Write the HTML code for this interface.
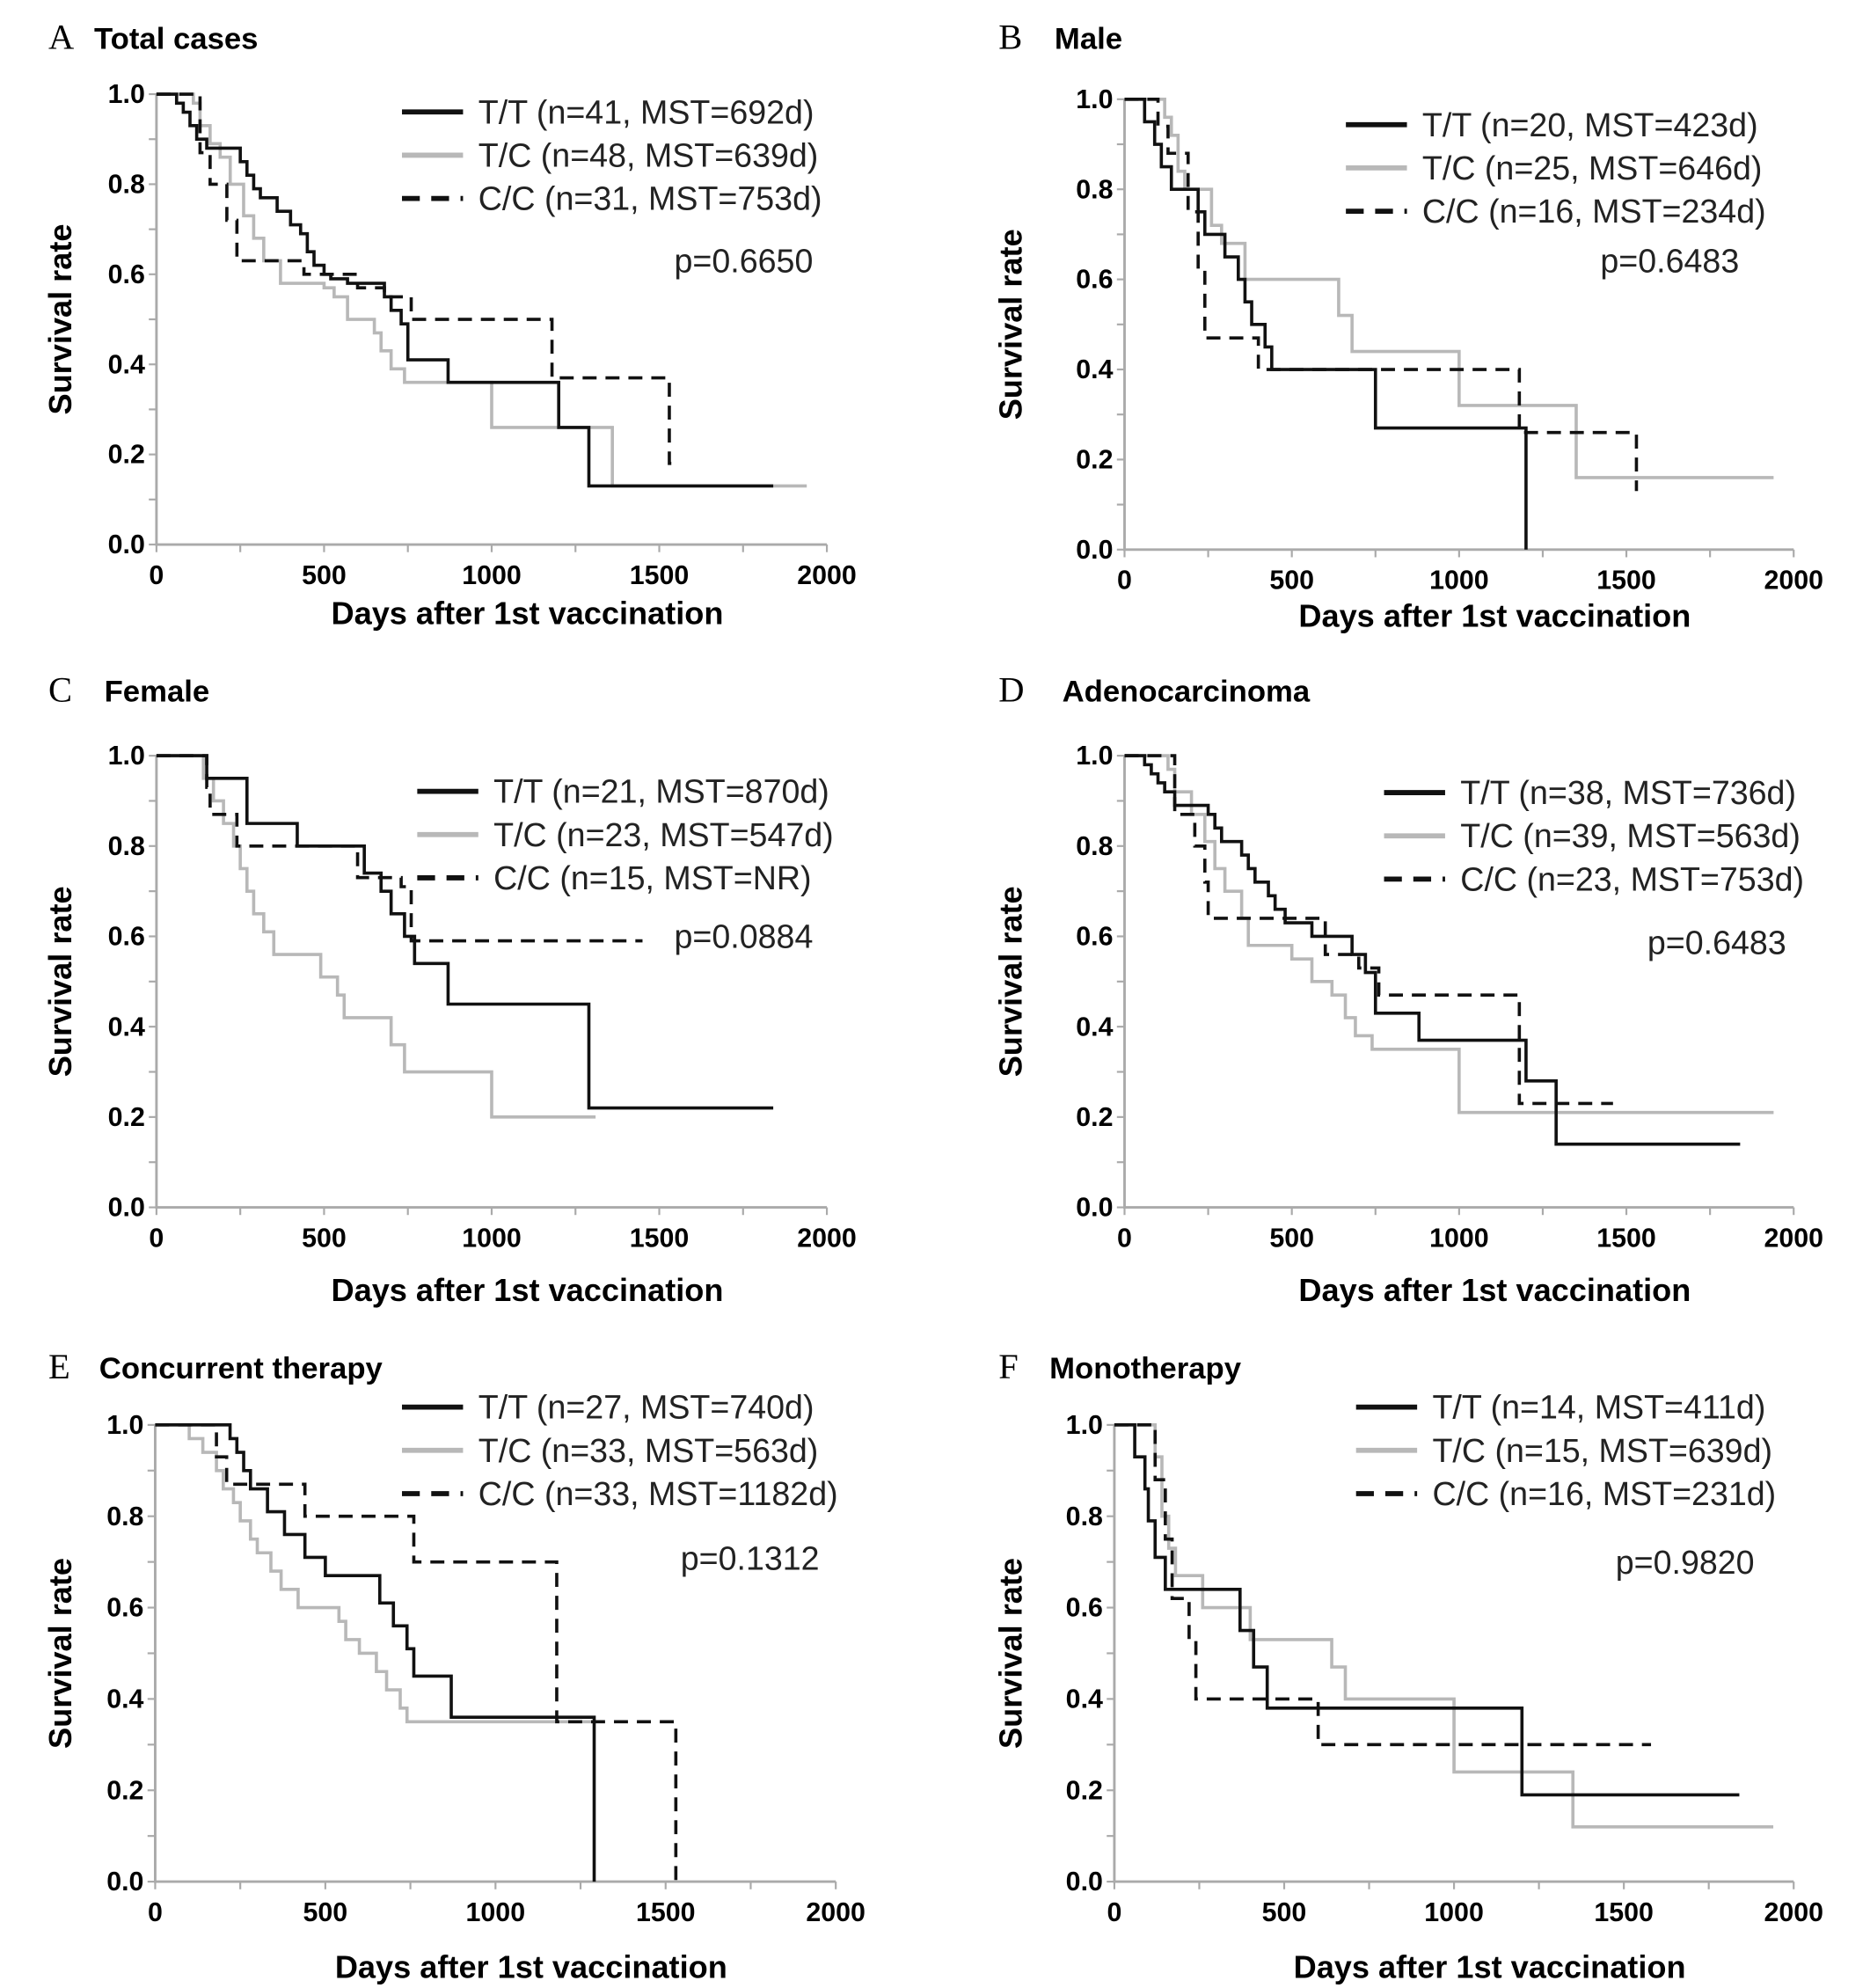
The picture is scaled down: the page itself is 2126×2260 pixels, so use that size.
<!DOCTYPE html>
<html><head><meta charset="utf-8"><style>
html,body{margin:0;padding:0;background:#fff;}
svg{display:block;}
</style></head><body>
<svg id="fig" width="2126" height="2260" viewBox="0 0 1470 1562.6" preserveAspectRatio="none" xmlns="http://www.w3.org/2000/svg" font-family="Liberation Sans, sans-serif"></svg>
<script>
// ---- data (days, survival after drop) ----
const panelLetters = ["A","B","C","D","E","F"];
const panelTitles = ["Total cases","Male","Female","Adenocarcinoma","Concurrent therapy","Monotherapy"];
const pValues = ["p=0.6650","p=0.6483","p=0.0884","p=0.6483","p=0.1312","p=0.9820"];
const legendTT = ["T/T (n=41, MST=692d)","T/T (n=20, MST=423d)","T/T (n=21, MST=870d)","T/T (n=38, MST=736d)","T/T (n=27, MST=740d)","T/T (n=14, MST=411d)"];
const legendTC = ["T/C (n=48, MST=639d)","T/C (n=25, MST=646d)","T/C (n=23, MST=547d)","T/C (n=39, MST=563d)","T/C (n=33, MST=563d)","T/C (n=15, MST=639d)"];
const legendCC = ["C/C (n=31, MST=753d)","C/C (n=16, MST=234d)","C/C (n=15, MST=NR)","C/C (n=23, MST=753d)","C/C (n=33, MST=1182d)","C/C (n=16, MST=231d)"];
const xTicks = [0,500,1000,1500,2000];
const yTicks = [0,0.2,0.4,0.6,0.8,1.0];

const ttA=[[60,.98],[80,.96],[100,.93],[120,.90],[150,.88],[250,.85],[270,.82],[290,.79],[310,.77],[360,.74],[400,.71],[430,.69],[450,.65],[470,.62],[500,.60],[520,.59],[570,.58],[680,.55],[700,.52],[730,.49],[750,.41],[870,.36],[1200,.26],[1290,.13],[1840,.13]];
const tcA=[[110,.98],[130,.93],[160,.89],[190,.86],[220,.80],[260,.73],[290,.68],[320,.63],[370,.58],[500,.57],[530,.55],[570,.50],[650,.47],[670,.43],[700,.39],[740,.36],[1000,.26],[1360,.13],[1940,.13]];
const ccA=[[130,.87],[160,.80],[210,.72],[240,.63],[440,.60],[600,.57],[680,.55],[760,.50],[1180,.37],[1530,.18],[1560,.18]];
const ttB=[[60,.95],[90,.90],[110,.85],[140,.80],[220,.75],[240,.70],[300,.65],[340,.60],[360,.55],[380,.50],[420,.45],[440,.40],[750,.27],[1200,0]];
const tcB=[[120,.96],[140,.92],[160,.84],[180,.80],[260,.72],[290,.68],[360,.60],[640,.52],[680,.44],[1000,.32],[1350,.16],[1940,.16]];
const ccB=[[100,.94],[130,.88],[190,.75],[220,.62],[240,.47],[400,.40],[1180,.26],[1530,.13]];
const ttC=[[150,.95],[270,.85],[420,.80],[620,.74],[670,.70],[700,.65],[740,.60],[770,.54],[870,.45],[1290,.22],[1840,.22]];
const tcC=[[140,.95],[170,.90],[200,.85],[230,.80],[250,.75],[270,.70],[290,.65],[320,.61],[350,.56],[490,.51],[540,.47],[560,.42],[700,.36],[740,.30],[1000,.20],[1310,.20]];
const ccC=[[150,.93],[160,.87],[240,.80],[600,.73],[730,.71],[760,.59],[1450,.59]];
const ttD=[[60,.98],[80,.96],[100,.94],[120,.92],[150,.89],[250,.87],[270,.84],[290,.81],[350,.78],[370,.75],[390,.72],[430,.69],[450,.66],[480,.63],[560,.60],[680,.56],[720,.52],[750,.43],[880,.37],[1200,.28],[1290,.14],[1840,.14]];
const tcD=[[130,.97],[150,.92],[200,.87],[240,.81],[270,.75],[300,.70],[350,.64],[370,.58],[500,.55],[560,.50],[620,.47],[660,.42],[690,.38],[740,.35],[1000,.21],[1940,.21]];
const ccD=[[150,.87],[210,.80],[240,.72],[250,.64],[600,.56],[700,.53],[760,.47],[1180,.23],[1460,.23]];
const ttE=[[220,.97],[240,.94],[260,.90],[280,.86],[330,.81],[380,.76],[440,.71],[500,.67],[660,.61],[700,.56],[740,.51],[760,.45],[870,.36],[1290,0]];
const tcE=[[100,.97],[140,.94],[180,.90],[200,.86],[230,.83],[250,.79],[280,.75],[300,.72],[340,.68],[370,.64],[420,.60],[540,.57],[560,.53],[600,.50],[650,.46],[680,.42],[720,.38],[740,.35],[1290,.35]];
const ccE=[[180,.93],[210,.87],[440,.80],[760,.70],[1180,.35],[1530,0]];
const ttF=[[60,.93],[90,.86],[100,.79],[120,.71],[150,.64],[370,.55],[410,.47],[450,.38],[1200,.19],[1840,.19]];
const tcF=[[120,.93],[140,.80],[160,.73],[180,.67],[260,.60],[400,.53],[640,.47],[680,.40],[1000,.24],[1350,.12],[1940,.12]];
const ccF=[[120,.88],[150,.75],[170,.62],[220,.53],[240,.40],[600,.30],[1580,.30]];

const seriesTT=[ttA,ttB,ttC,ttD,ttE,ttF];
const seriesTC=[tcA,tcB,tcC,tcD,tcE,tcF];
const seriesCC=[ccA,ccB,ccC,ccD,ccE,ccF];

// ---- layout ----
const L=[
 {x0:123,x1:650,y1:74,y0:428,lx:38,ty:32,tx:74,leg:[316,88],p:[530,205],xt:484},
 {x0:884,x1:1410,y1:78,y0:432,lx:785,ty:32,tx:829,leg:[1058,98],p:[1258,205],xt:486},
 {x0:123,x1:650,y1:594,y0:949,lx:38,ty:545,tx:82,leg:[328,622],p:[530,736],xt:1016},
 {x0:884,x1:1410,y1:594,y0:949,lx:785,ty:545,tx:835,leg:[1088,623],p:[1295,741],xt:1016},
 {x0:122,x1:657,y1:1120,y0:1479,lx:38,ty:1077,tx:78,leg:[316,1106],p:[535,1225],xt:1548},
 {x0:876,x1:1410,y1:1120,y0:1479,lx:785,ty:1077,tx:825,leg:[1066,1106],p:[1270,1228],xt:1548}
];
const NS="http://www.w3.org/2000/svg";
const svg=document.getElementById('fig');
function mk(tag,attrs,parent){const e=document.createElementNS(NS,tag);for(const k in attrs)e.setAttribute(k,attrs[k]);(parent||svg).appendChild(e);return e;}

for(let i=0;i<6;i++){
 const c=L[i];
 const g=mk('g',{});
 
 
 const sx=d=>c.x0+(c.x1-c.x0)*d/2000;
 const sy=v=>c.y0-(c.y0-c.y1)*v;
 const lt=mk('text',{x:c.lx,y:c.ty,'font-size':28,'font-family':'Liberation Serif, serif','dominant-baseline':'middle'},g);
 lt.textContent=panelLetters[i];
 
 
 const tt=mk('text',{x:c.tx,y:c.ty,'font-size':24,'font-weight':'bold','dominant-baseline':'middle'},g);
 tt.textContent=panelTitles[i];
 
 
 const ax=mk('path',{d:`M${c.x0},${c.y1}V${c.y0}H${c.x1}`,stroke:'#aaa','stroke-width':2,fill:'none'},g);
 
 
 for(let d=0;d<=2000;d+=250){mk('line',{x1:sx(d),x2:sx(d),y1:c.y0,y2:c.y0+6,stroke:'#aaa','stroke-width':1.5},g);}
 for(let v=0;v<=10;v++){mk('line',{x1:c.x0-6,x2:c.x0,y1:sy(v/10),y2:sy(v/10),stroke:'#aaa','stroke-width':1.5},g);}
 xTicks.forEach(d=>{const t=mk('text',{x:sx(d),y:c.y0+31,'font-size':21,'font-weight':'bold','text-anchor':'middle'},g);t.textContent=d;
  
  });
 yTicks.forEach(v=>{const t=mk('text',{x:c.x0-9,y:sy(v)+7,'font-size':21,'font-weight':'bold','text-anchor':'end'},g);t.textContent=v.toFixed(1);
  
  });
 const yt=mk('text',{x:0,y:0,'font-size':25,'font-weight':'bold','text-anchor':'middle',transform:`translate(${c.lx+18},${(c.y0+c.y1)/2}) rotate(-90)`},g);
 yt.textContent='Survival rate';
 
 
 const xt=mk('text',{x:(c.x0+c.x1)/2+28,y:c.xt,'font-size':25,'font-weight':'bold','text-anchor':'middle','dominant-baseline':'middle'},g);
 xt.textContent='Days after 1st vaccination';
 
 
 const styles=[[seriesTC[i],'#b8b8b8',2.5,null,'tc'],[seriesCC[i],'#111',2.5,'11,7','cc'],[seriesTT[i],'#111',2.5,null,'tt']];
 styles.forEach(s=>{
  let d=`M${sx(0)},${sy(1)}`;
  s[0].forEach(p=>{d+=`H${sx(p[0])}V${sy(p[1])}`;});
  const a={d:d,stroke:s[1],'stroke-width':s[2],fill:'none'};
  if(s[3])a['stroke-dasharray']=s[3];
  const pth=mk('path',a,g);
  
  
 });
 const labels=[legendTT[i],legendTC[i],legendCC[i]];
 const ls=[['#111',null],['#b8b8b8',null],['#111','14,9']];
 for(let k=0;k<3;k++){
  const y=c.leg[1]+k*34;
  const a={x1:c.leg[0],x2:c.leg[0]+48,y1:y,y2:y,stroke:ls[k][0],'stroke-width':4};
  if(ls[k][1])a['stroke-dasharray']=ls[k][1];
  const ln=mk('line',a,g);
  
  
  const t=mk('text',{x:c.leg[0]+60,y:y+9,'font-size':26,fill:'#222'},g);
  t.textContent=labels[k];
  
  
 }
 const pt=mk('text',{x:c.p[0],y:c.p[1]+9,'font-size':26,fill:'#222'},g);
 pt.textContent=pValues[i];
 
 
}
</script>
</body></html>
